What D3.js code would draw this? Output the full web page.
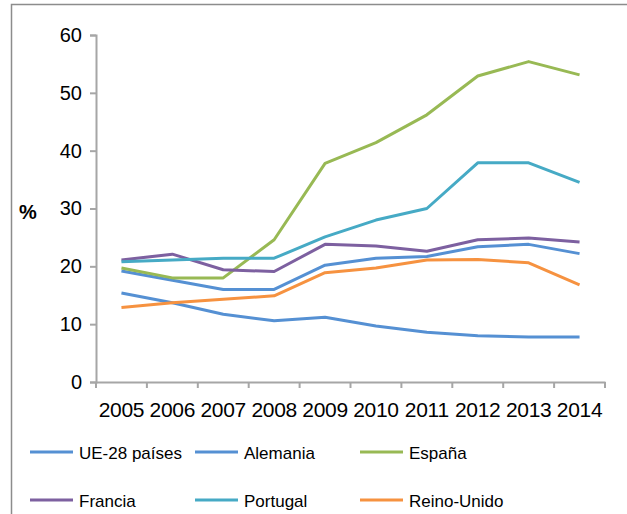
<!DOCTYPE html>
<html><head><meta charset="utf-8">
<script src="https://cdn.jsdelivr.net/npm/d3@7"></script>
<style>body{margin:0;background:#fff}svg{display:block;font-family:"Liberation Sans",Arial,sans-serif}</style>
</head><body><svg id="c" width="627" height="514"></svg>
<script>
const years = ["2005","2006","2007","2008","2009","2010","2011","2012","2013","2014"];
const yTicks = [0,10,20,30,40,50,60];
const seriesNames = ["UE-28 países","Alemania","España","Francia","Portugal","Reino-Unido"];
const ue28 =     [19.2,17.6,16.0,16.0,20.2,21.4,21.7,23.4,23.8,22.2];
const alemania = [15.4,13.7,11.7,10.6,11.2, 9.7, 8.6, 8.0, 7.8, 7.8];
const espana =   [19.7,18.0,18.0,24.6,37.8,41.4,46.2,52.9,55.4,53.1];
const francia =  [21.1,22.1,19.4,19.1,23.8,23.5,22.6,24.6,24.9,24.2];
const portugal = [20.8,21.1,21.4,21.4,25.1,28.0,30.0,37.9,37.9,34.5];
const reinoUnido=[12.9,13.7,14.3,14.9,18.9,19.7,21.1,21.2,20.6,16.8];
const colors = ["#5590d3","#5590d3","#98b954","#7d60a0","#46aac5","#f69240"];
const values = [ue28,alemania,espana,francia,portugal,reinoUnido];

const svg = d3.select("#c");
svg.append("path").attr("d","M11.5,514 V4.5 H627").attr("fill","none").attr("stroke","#8c8c8c").attr("stroke-width",1.5);

const x = d3.scaleBand().domain(years).range([96,605]);
const y = d3.scaleLinear().domain([0,60]).range([382,35]);

const gy = svg.append("g").attr("transform","translate(96,0)")
  .call(d3.axisLeft(y).tickValues(yTicks).tickSize(6).tickPadding(8));
const gx = svg.append("g").attr("transform","translate(0,382)")
  .call(d3.axisBottom(x).tickSize(0).tickPadding(35));
const bounds = years.map(d=>x(d)).concat([x.range()[1]]);
gx.selectAll(".bt").data(bounds).enter().append("line").attr("class","bt")
  .attr("x1",d=>d).attr("x2",d=>d).attr("y1",0).attr("y2",6);
[gx,gy].forEach(g=>{
  g.select(".domain").attr("stroke","#a6a6a6").attr("stroke-width",2);
  g.selectAll("line").attr("stroke","#a6a6a6").attr("stroke-width",2);
  g.selectAll("text").attr("fill","#000").attr("font-family","Liberation Sans, Arial, sans-serif");
});
gy.selectAll("text").attr("font-size",20);
gx.selectAll("text").attr("font-size",21).attr("letter-spacing","-0.3").attr("dy",0);

svg.append("text").attr("x",19).attr("y",219).attr("font-size",20).attr("font-weight","bold").attr("fill","#000").text("%");

const line = d3.line().x((d,i)=>x(years[i])+x.bandwidth()/2).y(d=>y(d));
values.forEach((v,i)=>{
  svg.append("path").datum(v).attr("d",line).attr("fill","none")
    .attr("stroke",colors[i]).attr("stroke-width",3).attr("stroke-linejoin","round");
});

const legX = [30,195,360], legY = [452,500];
seriesNames.forEach((n,i)=>{
  const lx = legX[i%3], ly = legY[Math.floor(i/3)];
  svg.append("line").attr("x1",lx).attr("x2",lx+43).attr("y1",ly).attr("y2",ly)
    .attr("stroke",colors[i]).attr("stroke-width",3);
  svg.append("text").attr("x",lx+49).attr("y",ly+7).attr("font-size",17).attr("fill","#000").text(n);
});
</script></body></html>
